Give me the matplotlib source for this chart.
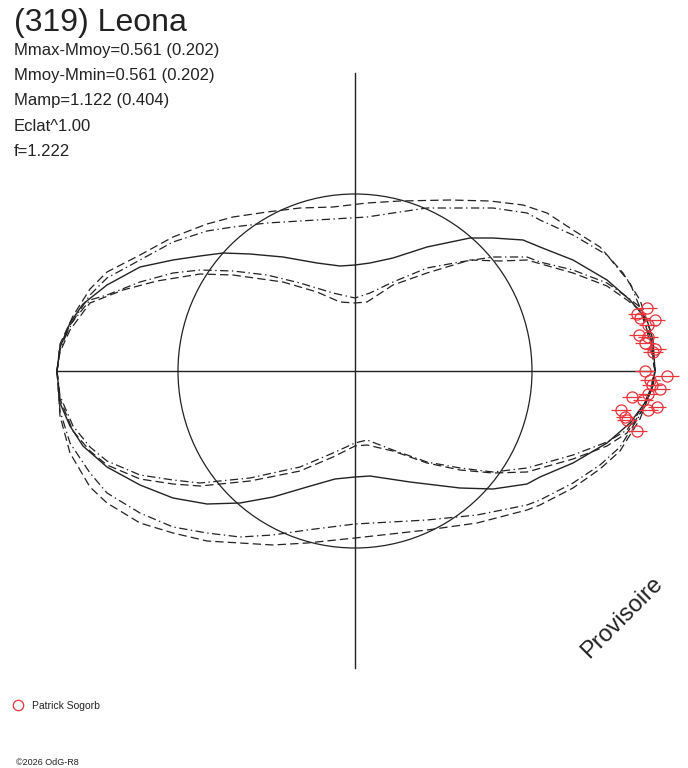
import numpy as np
import matplotlib
matplotlib.use("Agg")
import matplotlib.pyplot as plt
from matplotlib.patches import Circle

plt.rcParams['font.family'] = ['Liberation Sans', 'DejaVu Sans']
plt.rcParams['lines.scale_dashes'] = False

# titre et textes
titre = "(319) Leona"
infos = ["Mmax-Mmoy=0.561 (0.202)",
         "Mmoy-Mmin=0.561 (0.202)",
         "Mamp=1.122 (0.404)",
         "Eclat^1.00",
         "f=1.222"]
observateur = "Patrick Sogorb"
copyright_txt = "©2026 OdG-R8"
filigrane = "Provisoire"

# rayon du cercle de reference et longueur des axes (unites du graphe)
rayon_ref = 177
axe_len = 298

# courbe moyenne (trait plein), moitie haute puis basse
plein_haut_x = [300, 298, 292, 275, 252, 218, 185, 168, 138, 115, 72, 38, 15, 0, -15, -38, -72,
                -105, -132, -155, -182, -215, -248, -272, -285, -295, -298]
plein_haut_y = [0, 31, 51, 71, 91, 111, 124, 131, 133, 133, 124, 113, 108, 106, 105, 108, 114,
                117, 118, 115, 111, 104, 86, 67, 48, 24, 0]
plein_bas_x = [-298, -295, -285, -272, -248, -215, -182, -148, -115, -82, -48, -20, 0, 15, 55,
               105, 138, 172, 185, 218, 252, 275, 292, 298, 300]
plein_bas_y = [0, -32, -55, -75, -96, -114, -127, -133, -132, -126, -116, -108, -106, -105, -111,
               -117, -118, -113, -106, -92, -72, -52, -29, -15, 0]

# enveloppes exterieures
tiret_haut_x = [300, 295, 285, 268, 245, 218, 192, 168, 135, 95, 45, 12, -22, -55, -88, -122,
                -148, -182, -215, -248, -265, -282, -295, -298]
tiret_haut_y = [0, 41, 71, 98, 124, 141, 158, 166, 170, 171, 170, 168, 164, 163, 159, 154,
                147, 134, 116, 99, 82, 55, 27, 0]
tiret_bas_x = [-298, -295, -285, -265, -248, -215, -182, -148, -115, -82, -48, 0, 72, 122, 172,
               185, 218, 245, 265, 285, 295, 300]
tiret_bas_y = [0, -45, -82, -116, -132, -152, -162, -170, -172, -174, -172, -167, -159, -152,
               -139, -134, -117, -98, -80, -48, -22, 0]

pointt_haut_x = [300, 290, 275, 252, 218, 185, 172, 138, 105, 72, 38, 12, -22, -55, -88, -122,
                 -148, -182, -215, -248, -265, -282, -295, -298]
pointt_haut_y = [0, 51, 88, 116, 136, 151, 158, 163, 163, 163, 158, 154, 152, 150, 148, 144,
                 140, 129, 111, 93, 76, 50, 24, 0]
pointt_bas_x = [-298, -295, -285, -265, -248, -215, -182, -148, -115, -82, -48, 0, 72, 122, 172,
                185, 218, 245, 265, 285, 295, 300]
pointt_bas_y = [0, -40, -72, -102, -122, -142, -156, -162, -166, -164, -159, -153, -149, -144,
                -134, -129, -112, -94, -76, -44, -19, 0]

# enveloppes interieures
int_pt_haut_x = [300, 296, 285, 272, 252, 218, 185, 172, 138, 105, 72, 38, 15, 0, -22, -55, -88,
                 -122, -155, -182, -215, -248, -265, -285, -295, -298]
int_pt_haut_y = [0, 32, 64, 74, 88, 101, 109, 114, 114, 109, 103, 89, 78, 73, 78, 88, 96,
                 100, 101, 98, 89, 76, 71, 46, 21, 0]
int_ti_haut_x = [300, 296, 285, 272, 252, 218, 172, 145, 115, 72, 38, 12, 0, -15, -38, -72, -122,
                 -155, -198, -232, -265, -285, -295, -298]
int_ti_haut_y = [0, 30, 61, 71, 85, 98, 111, 110, 111, 98, 86, 69, 68, 69, 79, 89, 96,
                 97, 90, 81, 68, 41, 19, 0]
int_pt_bas_x = [-298, -295, -282, -265, -248, -215, -182, -155, -105, -55, -22, 0, 12, 38, 72,
                105, 138, 172, 218, 252, 272, 288, 296, 300]
int_pt_bas_y = [0, -25, -55, -76, -90, -104, -109, -112, -107, -96, -82, -72, -69, -79, -91,
                -97, -101, -97, -84, -71, -59, -35, -18, 0]
int_ti_bas_x = [-298, -295, -282, -265, -248, -215, -182, -155, -105, -55, -22, 0, 12, 38, 72,
                105, 138, 172, 218, 252, 272, 288, 296, 300]
int_ti_bas_y = [0, -28, -60, -80, -94, -108, -113, -115, -110, -100, -86, -75, -74, -80, -92,
                -99, -102, -101, -88, -75, -62, -38, -20, 0]

# observations (points rouges) et barres d'erreur
obs_x = [292, 282, 285, 300, 293, 284, 293, 290, 300, 298, 290, 312, 295, 297, 305, 277, 293,
         288, 302, 293, 266, 270, 272, 282]
obs_y = [63, 57, 53, 51, 46, 36, 34, 28, 22, 19, 0, -5, -9, -14, -18, -26, -23, -29, -36,
         -39, -39, -46, -49, -60]
obs_err = [10, 9, 10, 10, 9, 10, 10, 10, 11, 10, 10, 12, 10, 10, 10, 10, 10, 10, 9, 10, 10,
           9, 10, 10]

noir = '#222222'
rouge = '#e8343a'
tiret = (0, (6, 3))
tiret_point = (0, (6, 2.5, 1, 2.5))

fig = plt.figure(figsize=(6.88, 7.68), dpi=100)
ax = fig.add_axes([0, 0, 1, 1])
ax.set_xlim(-355, 333)
ax.set_ylim(-397, 371)
ax.axis('off')

# axes et cercle
ax.plot([-axe_len, axe_len], [0, 0], color=noir, lw=1)
ax.plot([0, 0], [-axe_len + 1, axe_len], color=noir, lw=1)
ax.add_patch(Circle((0, 0), rayon_ref, fill=False, ec=noir, lw=0.9))

ax.plot(plein_haut_x, plein_haut_y, color=noir, lw=1)
ax.plot(plein_bas_x, plein_bas_y, color=noir, lw=1)
ax.plot(tiret_haut_x, tiret_haut_y, color=noir, lw=0.9, linestyle=tiret)
ax.plot(tiret_bas_x, tiret_bas_y, color=noir, lw=0.9, linestyle=tiret)
ax.plot(pointt_haut_x, pointt_haut_y, color=noir, lw=0.9, linestyle=tiret_point)
ax.plot(pointt_bas_x, pointt_bas_y, color=noir, lw=0.9, linestyle=tiret_point)
ax.plot(int_pt_haut_x, int_pt_haut_y, color=noir, lw=0.9, linestyle=tiret_point)
ax.plot(int_ti_haut_x, int_ti_haut_y, color=noir, lw=0.9, linestyle=tiret)
ax.plot(int_pt_bas_x, int_pt_bas_y, color=noir, lw=0.9, linestyle=tiret_point)
ax.plot(int_ti_bas_x, int_ti_bas_y, color=noir, lw=0.9, linestyle=tiret)

ax.errorbar(obs_x, obs_y, xerr=obs_err, fmt='o', mfc='none', mec=rouge, ecolor=rouge,
            ms=8, mew=0.9, elinewidth=0.9, capsize=0, zorder=5)

# textes
fig.text(14 / 688, 1 - 31 / 768, titre, fontsize=23, color=noir, va='baseline')
for i, t in enumerate(infos):
    fig.text(14 / 688, 1 - (55 + 25.2 * i) / 768, t, fontsize=12, color=noir, va='baseline')

fig.text(622 / 688, 1 - 618 / 768, filigrane, fontsize=17, color=noir, rotation=45,
         ha='center', va='center')

# legende
ax.plot([-337], [-334], 'o', mfc='none', mec=rouge, ms=7.5, mew=0.9)
fig.text(32 / 688, 1 - 709 / 768, observateur, fontsize=7.5, color=noir, va='baseline')
fig.text(16 / 688, 1 - 765 / 768, copyright_txt, fontsize=6.5, color=noir, va='baseline')

fig.savefig("out.png", dpi=100)
